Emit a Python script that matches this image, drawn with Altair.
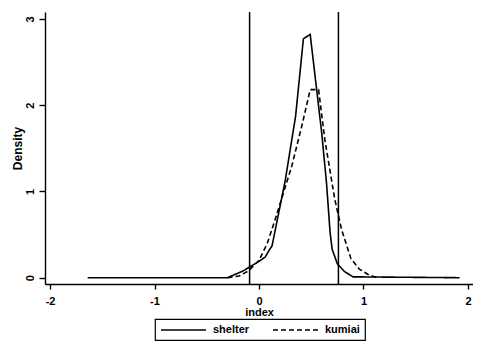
import altair as alt
import pandas as pd

shelter_x = [-1.64, -0.30, -0.15, 0.00, 0.06, 0.093, 0.125, 0.25, 0.35, 0.425, 0.49, 0.60, 0.646, 0.68, 0.70, 0.75, 0.82, 0.90, 1.92]
shelter_y = [0.0, 0.0, 0.08, 0.19, 0.24, 0.31, 0.37, 1.12, 1.87, 2.77, 2.82, 1.68, 1.10, 0.53, 0.33, 0.16, 0.07, 0.01, 0.0]

kumiai_x = [-0.30, -0.19, -0.10, 0.00, 0.08, 0.156, 0.315, 0.41, 0.49, 0.57, 0.63, 0.725, 0.79, 0.88, 0.96, 1.04, 1.13]
kumiai_y = [0.0, 0.02, 0.08, 0.20, 0.40, 0.68, 1.30, 1.76, 2.18, 2.18, 1.60, 0.91, 0.56, 0.22, 0.10, 0.04, 0.0]

vlines = [-0.09, 0.76]
series = ["shelter", "kumiai"]

df = pd.concat([
    pd.DataFrame({"index": shelter_x, "Density": shelter_y, "series": "shelter", "order": range(len(shelter_x))}),
    pd.DataFrame({"index": kumiai_x, "Density": kumiai_y, "series": "kumiai", "order": range(len(kumiai_x))}),
])
vdf = pd.DataFrame({"v": vlines})

FONT = "Liberation Sans"

xscale = alt.Scale(domain=[-2.048, 2.048], nice=False, zero=False)
yscale = alt.Scale(domain=[-0.073, 3.08], nice=False, zero=False)

lines = alt.Chart(df).mark_line(color="black", strokeWidth=1.6).encode(
    x=alt.X("index:Q", scale=xscale, title="index",
            axis=alt.Axis(values=[-2, -1, 0, 1, 2], labelExpr="'' + datum.value", labelFlush=False,
                          grid=False, tickSize=5, labelPadding=6, titlePadding=0,
                          labelFontSize=11, titleFontSize=11)),
    y=alt.Y("Density:Q", scale=yscale, title="Density",
            axis=alt.Axis(values=[0, 1, 2, 3], grid=False, tickSize=6, labelAngle=270,
                          labelPadding=4, titlePadding=0, labelFontSize=11, titleFontSize=12)),
    strokeDash=alt.StrokeDash("series:N",
                              scale=alt.Scale(domain=series, range=[[1, 0], [5, 3]]),
                              legend=alt.Legend(title=None, orient="none", legendX=110, legendY=307,
                                                direction="horizontal")),
    order="order:Q",
)

rules = alt.Chart(vdf).mark_rule(color="black", strokeWidth=1.5).encode(
    x=alt.X("v:Q", scale=xscale)
)

chart = alt.layer(rules, lines).properties(
    width=428, height=272,
    autosize=alt.AutoSizeParams(type="none"),
    padding={"left": 37, "top": 4, "right": 0, "bottom": 58},
    background="white",
).configure_view(stroke=None).configure_axis(
    domainColor="black", tickColor="black", labelColor="black", titleColor="black",
    labelFont=FONT, titleFont=FONT,
    labelFontWeight="bold", titleFontWeight="bold", domainWidth=1.4, tickWidth=1.4,
).configure_legend(
    strokeColor="black", strokeWidth=1.2, padding=5, symbolType="M-1,0H8", symbolSize=100,
    symbolStrokeWidth=1.5, symbolStrokeColor="black", labelFont=FONT, labelFontSize=11,
    labelFontWeight="bold", labelColor="black", columnPadding=20, labelOffset=41,
)

chart.save("out.html", embed_options={"renderer": "svg", "actions": False})
